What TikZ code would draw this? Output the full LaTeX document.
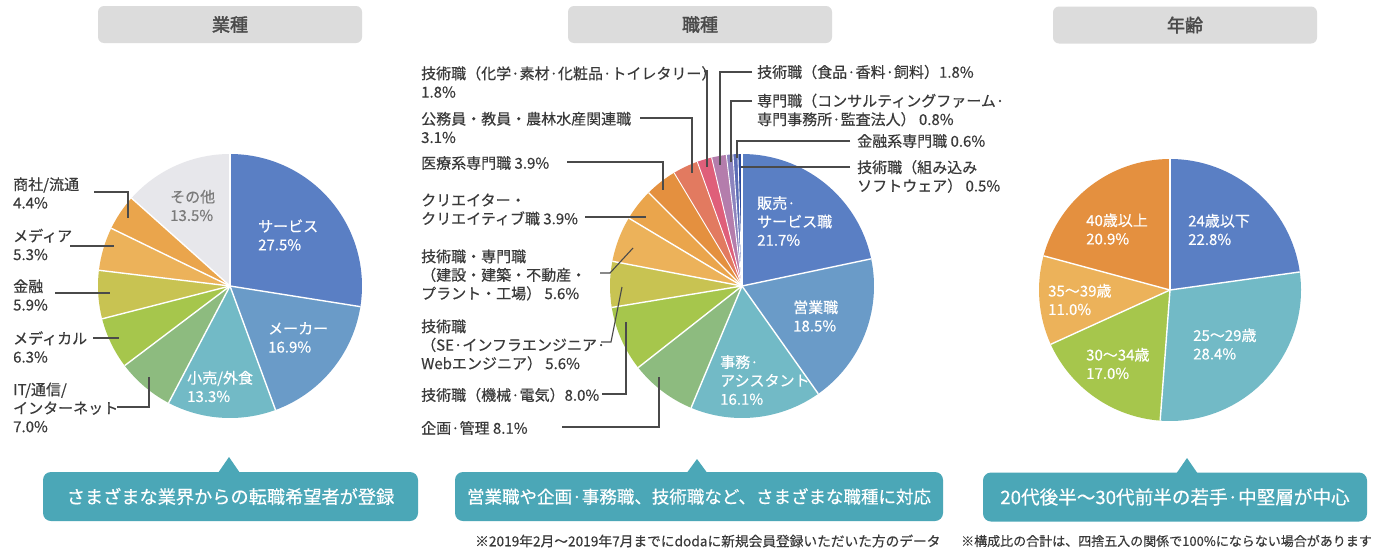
\documentclass[tikz,border=0pt]{standalone}
\usepackage{fontspec}
\setmainfont{Noto Sans CJK JP}[RawFeature={embolden=0.4}]
\newfontfamily\hdrfont{Noto Sans CJK JP}[RawFeature={embolden=2.2}]
\usetikzlibrary{calc}
\definecolor{txt}{HTML}{3A3A3A}
\definecolor{ldr}{HTML}{4A4A4A}
\definecolor{hdrgray}{HTML}{DCDCDC}
\definecolor{hdrtxt}{HTML}{4A4A4A}
\definecolor{bann}{HTML}{4BA7B7}
\definecolor{othertxt}{HTML}{7A7A7A}
\definecolor{cBlue}{HTML}{5A7FC4}
\definecolor{cSteel}{HTML}{6A9BC8}
\definecolor{cTeal}{HTML}{72BAC6}
\definecolor{cSage}{HTML}{8DBB7F}
\definecolor{cLime}{HTML}{A6C64C}
\definecolor{cOlive}{HTML}{C8C352}
\definecolor{cSand}{HTML}{ECB25A}
\definecolor{cSandB}{HTML}{EAA54C}
\definecolor{cOrange}{HTML}{E4903F}
\definecolor{cSalmon}{HTML}{E27A60}
\definecolor{cPink}{HTML}{DF5F7A}
\definecolor{cMauve}{HTML}{B47DAC}
\definecolor{cLav}{HTML}{8C84BE}
\definecolor{cIndigo}{HTML}{5C6DB6}
\definecolor{cNavy}{HTML}{2C4A9C}
\definecolor{cGrey}{HTML}{E7E7EB}
\begin{document}
\begin{tikzpicture}[x=1pt,y=1pt,
  lbl/.style={font=\fontsize{15}{18.5}\selectfont, text=txt, align=left, inner sep=0pt, anchor=west},
  inl/.style={lbl, text=white},
  leader/.style={draw=ldr, line width=1.1pt},
  sep/.style={draw=white, line width=1.4pt},
  septhin/.style={draw=white, line width=0.9pt},
  hdr/.style={fill=hdrgray, rounded corners=6pt, minimum width=264pt, minimum height=37pt, font=\hdrfont\fontsize{18}{20}\selectfont, text=hdrtxt, inner sep=0pt},
  banner/.style={fill=bann, rounded corners=8pt, text=white, inner sep=0pt, minimum height=49pt},
  note/.style={text=txt, inner sep=0pt, anchor=west}]
\fill[white] (0,0) rectangle (1375,-552);
\useasboundingbox (0,0) rectangle (1375,-552);

% ---------- headers
\node[hdr] (h1) at (230,-24.5) {業種};
\node[hdr] (h2) at (700,-24.5) {職種};
\node[hdr] (h3) at (1185,-25) {年齢};

% ---------- pie centres
\coordinate (PL) at (230,-286);
\coordinate (PM) at (742,-286);
\coordinate (PR) at (1170,-290);

% ---------- left pie
\foreach \sa/\sb/\cl in {90/-9/cBlue, -9/-69.84/cSteel, -69.84/-117.72/cTeal,
  -117.72/-142.92/cSage, -142.92/-165.6/cLime, -165.6/-186.84/cOlive,
  -186.84/-205.92/cSand, -205.92/-221.76/cSandB, -221.76/-270/cGrey}
  {\fill[fill=\cl] (PL) -- ++(\sa:132) arc[start angle=\sa, end angle=\sb, radius=132] -- cycle;}
\foreach \sa in {90,-9,-69.84,-117.72,-142.92,-165.6,-186.84,-205.92,-221.76}
  {\draw[sep] (PL) -- ++(\sa:132);}

% ---------- middle pie
\foreach \sa/\sb/\cl in {90/11.88/cBlue, 11.88/-54.72/cSteel, -54.72/-112.68/cTeal,
  -112.68/-141.84/cSage, -141.84/-170.64/cLime, -170.64/-190.8/cOlive,
  -190.8/-210.96/cSand, -210.96/-225/cSandB, -225/-239.04/cOrange,
  -239.04/-250.2/cSalmon, -250.2/-256.68/cPink, -256.68/-263.16/cMauve,
  -263.16/-266.04/cLav, -266.04/-268.2/cIndigo, -268.2/-270/cNavy}
  {\fill[fill=\cl] (PM) -- ++(\sa:132) arc[start angle=\sa, end angle=\sb, radius=132] -- cycle;}
\foreach \sa in {90,11.88,-54.72,-112.68,-141.84,-170.64,-190.8,-210.96,-225}
  {\draw[sep] (PM) -- ++(\sa:132);}
\foreach \sa in {-239.04,-250.2,-256.68,-263.16,-266.04,-268.2}
  {\draw[septhin] (PM) -- ++(\sa:132);}

% ---------- right pie
\foreach \sa/\sb/\cl in {90/7.92/cBlue, 7.92/-94.32/cTeal, -94.32/-155.52/cLime,
  -155.52/-195.12/cSand, -195.12/-270/cOrange}
  {\fill[fill=\cl] (PR) -- ++(\sa:131) arc[start angle=\sa, end angle=\sb, radius=131] -- cycle;}
\foreach \sa in {90,7.92,-94.32,-155.52,-195.12}
  {\draw[sep] (PR) -- ++(\sa:131);}

% ---------- left pie labels
\node[inl] (iA) at (258,-235) {サービス\\27.5\%};
\node[inl] (iB) at (268,-337.5) {メーカー\\16.9\%};
\node[inl] (iC) at (187,-386.5) {小売/外食\\13.3\%};
\node[lbl, text=othertxt] (iD) at (170,-205.5) {その他\\13.5\%};

\node[lbl] (lA) at (13,-193) {商社/流通\\4.4\%};
\node[lbl] (lB) at (13,-244.5) {メディア\\5.3\%};
\node[lbl] (lC) at (13,-295) {金融\\5.9\%};
\node[lbl] (lD) at (13,-347) {メディカル\\6.3\%};
\node[lbl] (lE) at (13,-407.5) {IT/通信/\\インターネット\\7.0\%};

\coordinate (aA1) at (94,-192);  \coordinate (aA2) at (128,-218);
\coordinate (aB1) at (70,-246);  \coordinate (aB2) at (114,-246);
\coordinate (aC1) at (55,-293);  \coordinate (aC2) at (110,-293);
\coordinate (aD1) at (93,-338);  \coordinate (aD2) at (119,-338);
\coordinate (aE1) at (117,-407); \coordinate (aE2) at (149,-377);
\draw[leader] (aA1) -| (aA2);
\draw[leader] (aB1) -- (aB2);
\draw[leader] (aC1) -- (aC2);
\draw[leader] (aD1) -- (aD2);
\draw[leader] (aE1) -| (aE2);

% ---------- middle pie labels
\node[inl] (iE) at (757,-221) {販売·\\サービス職\\21.7\%};
\node[inl] (iF) at (793,-316) {営業職\\18.5\%};
\node[inl] (iG) at (720,-380) {事務·\\アシスタント\\16.1\%};

\node[lbl] (m1) at (421,-82) {技術職（化学·素材·化粧品·トイレタリー）\\1.8\%};
\node[lbl] (m2) at (421,-127.5) {公務員・教員・農林水産関連職\\3.1\%};
\node[lbl] (m3) at (421,-163) {医療系専門職 3.9\%};
\node[lbl] (m4) at (421,-209.5) {クリエイター・\\クリエイティブ職 3.9\%};
\node[lbl] (m5) at (421,-275) {技術職・専門職\\（建設・建築・不動産・\\プラント・工場） 5.6\%};
\node[lbl] (m6) at (421,-345) {技術職\\（SE·インフラエンジニア·\\Webエンジニア） 5.6\%};
\node[lbl] (m7) at (421,-395) {技術職（機械·電気）8.0\%};
\node[lbl] (m8) at (421,-428) {企画·管理 8.1\%};
\node[lbl] (m9) at (757,-72) {技術職（食品·香料·飼料）1.8\%};
\node[lbl] (m10) at (757,-110) {専門職（コンサルティングファーム·\\専門事務所·監査法人） 0.8\%};
\node[lbl] (m11) at (857,-141) {金融系専門職 0.6\%};
\node[lbl] (m12) at (857,-176.5) {技術職（組み込み\\ソフトウェア） 0.5\%};

\coordinate (b1s) at (704,-71);  \coordinate (b1e) at (707,-167);
\coordinate (b2s) at (640,-118); \coordinate (b2e) at (692,-173);
\coordinate (b3s) at (567,-162); \coordinate (b3e) at (663,-190);
\coordinate (b4s) at (585,-217); \coordinate (b4e) at (646,-217);
\coordinate (b5s) at (600,-273); \coordinate (b5k) at (610,-273); \coordinate (b5e) at (633,-248);
\coordinate (b6s) at (601,-342); \coordinate (b6k) at (611,-342); \coordinate (b6e) at (622,-287);
\coordinate (b7s) at (602,-394); \coordinate (b7e) at (626,-322);
\coordinate (b8s) at (562,-427); \coordinate (b8e) at (659,-377);
\coordinate (b9s) at (752,-72);  \coordinate (b9e) at (720,-165);
\coordinate (b10s) at (752,-101); \coordinate (b10e) at (731,-162);
\coordinate (b11s) at (850,-141); \coordinate (b11e) at (737,-158);
\coordinate (b12s) at (850,-167); \coordinate (b12e) at (741,-167);
\draw[leader] (b1s) -| (b1e);
\draw[leader] (b2s) -| (b2e);
\draw[leader] (b3s) -| (b3e);
\draw[leader] (b4s) -- (b4e);
\draw[leader] (b5s) -- (b5k) -- (b5e);
\draw[leader] (b6s) -- (b6k) -- (b6e);
\draw[leader] (b7s) -| (b7e);
\draw[leader] (b8s) -| (b8e);
\draw[leader] (b9s) -| (b9e);
\draw[leader] (b10s) -| (b10e);
\draw[leader] (b11s) -| (b11e);
\draw[leader] (b12s) -- (b12e);

% ---------- right pie labels
\node[inl] (iH) at (1188,-229.5) {24歳以下\\22.8\%};
\node[inl] (iI) at (1193,-344) {25～29歳\\28.4\%};
\node[inl] (iJ) at (1086,-363.5) {30～34歳\\17.0\%};
\node[inl] (iK) at (1048,-299.5) {35～39歳\\11.0\%};
\node[inl] (iL) at (1086,-229) {40歳以上\\20.9\%};

% ---------- banners
\node[banner, minimum width=375pt, font=\fontsize{18.2}{20}\selectfont] (n1) at (230.5,-496.5) {さまざまな業界からの転職希望者が登録};
\node[banner, minimum width=488pt, font=\fontsize{17.5}{20}\selectfont] (n2) at (699,-496.5) {営業職や企画·事務職、技術職など、さまざまな職種に対応};
\node[banner, minimum width=384pt, font=\fontsize{18.6}{20}\selectfont] (n3) at (1175,-497) {20代後半～30代前半の若手·中堅層が中心};
\coordinate (t1) at (229,-457);
\coordinate (t2) at (697,-459);
\coordinate (t3) at (1187,-458);
\fill[bann] (t1) -- ($(t1)+(11,-16)$) -- ($(t1)+(-11,-16)$) -- cycle;
\fill[bann] (t2) -- ($(t2)+(11,-15)$) -- ($(t2)+(-11,-15)$) -- cycle;
\fill[bann] (t3) -- ($(t3)+(11,-16)$) -- ($(t3)+(-11,-16)$) -- cycle;

% ---------- notes
\node[note, font=\fontsize{13.7}{15}\selectfont] (f1) at (475,-541) {※2019年2月～2019年7月までにdodaに新規会員登録いただいた方のデータ};
\node[note, font=\fontsize{13}{15}\selectfont] (f2) at (961,-541) {※構成比の合計は、四捨五入の関係で100\%にならない場合があります};
\end{tikzpicture}
\end{document}
